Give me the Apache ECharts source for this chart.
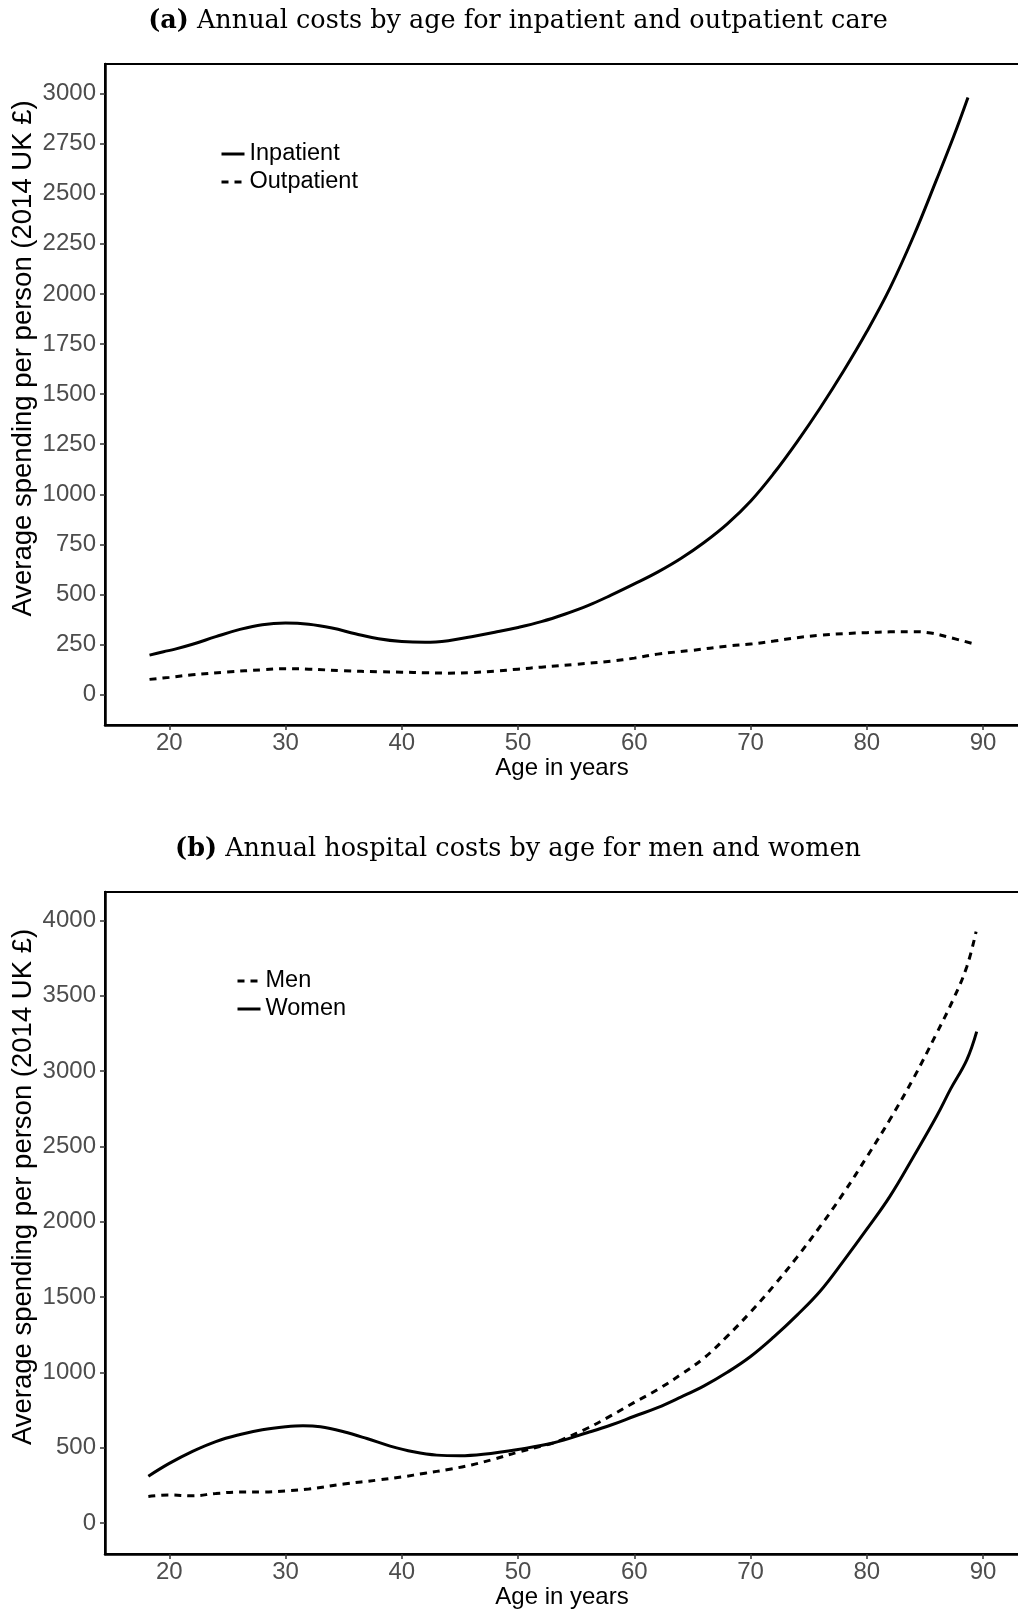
<!DOCTYPE html>
<html>
<head>
<meta charset="utf-8">
<script src="https://cdn.jsdelivr.net/npm/echarts@6/dist/echarts.min.js"></script>
<style>
  html, body { margin: 0; padding: 0; background: #fff; }
  #chart { width: 1018px; height: 1609px; }
</style>
</head>
<body>
<div id="chart"></div>
<script>
// Panel (a): inpatient vs outpatient costs by age (2014 UK £)
const inpatientAge = [18.3, 19.5, 20.5, 22, 24, 26, 28, 30, 32, 34, 36, 38, 40, 42, 44, 46, 48, 50, 52, 54, 56, 58, 60, 62, 64, 66, 68, 70, 72, 74, 76, 78, 80, 82, 84, 86, 87.5, 88.7];
const inpatientCost = [198, 215, 228, 252, 290, 325, 350, 358, 352, 333, 305, 280, 266, 262, 270, 290, 312, 336, 365, 402, 445, 497, 553, 612, 680, 760, 853, 966, 1105, 1262, 1432, 1615, 1812, 2030, 2285, 2570, 2790, 2980];

const outpatientAge = [18.3, 20, 22, 25, 28, 30, 32, 35, 38, 40, 42, 44, 46, 48, 50, 52, 55, 58, 60, 62, 65, 68, 70, 72, 74, 76, 78, 80, 82, 84, 85.5, 87, 89.1];
const outpatientCost = [77, 87, 100, 114, 125, 130, 128, 120, 115, 113, 110, 108, 111, 118, 128, 138, 152, 168, 183, 203, 222, 243, 253, 268, 285, 297, 305, 310, 314, 315, 308, 288, 256];

// Panel (b): hospital costs by age for men and women
const menAge = [18.2, 20, 22, 24, 26, 28, 30, 32, 35, 38, 40, 42, 44, 46, 48, 50, 52, 53, 54, 56, 58, 60, 62, 64, 66, 68, 70, 72, 74, 76, 78, 80, 82, 84, 86, 87.4, 88.6, 89.4];
const menCost = [175, 185, 180, 195, 205, 205, 212, 225, 258, 285, 305, 330, 355, 385, 425, 470, 510, 530, 560, 630, 712, 800, 885, 985, 1095, 1240, 1400, 1575, 1765, 1970, 2190, 2430, 2680, 2950, 3250, 3470, 3693, 3926];

const womenAge = [18.2, 20, 22, 24, 26, 28, 30, 31.5, 33, 35, 37, 39, 41, 43, 45, 47, 50, 53, 56, 58, 60, 62, 64, 66, 68, 70, 72, 74, 76, 78, 80, 82, 84, 86, 87.2, 88.6, 89.45];
const womenCost = [310, 395, 475, 540, 585, 618, 638, 645, 638, 605, 560, 510, 472, 450, 446, 456, 488, 530, 600, 650, 708, 765, 835, 910, 1000, 1105, 1235, 1380, 1540, 1740, 1950, 2170, 2430, 2700, 2880, 3075, 3262];

// Tick labels
const ageTicks = [20, 30, 40, 50, 60, 70, 80, 90];
const costTicksA = [0, 250, 500, 750, 1000, 1250, 1500, 1750, 2000, 2250, 2500, 2750, 3000];
const costTicksB = [0, 500, 1000, 1500, 2000, 2500, 3000, 3500, 4000];

const titleA = 'Annual costs by age for inpatient and outpatient care';
const titleB = 'Annual hospital costs by age for men and women';
const yName = 'Average spending per person (2014 UK £)';
const xName = 'Age in years';

const SANS = '"Liberation Sans", Arial, Helvetica, sans-serif';
const SERIF = '"DejaVu Serif", "Liberation Serif", serif';
const DASH = [7, 6];

const pairs = (xs, ys) => xs.map((x, i) => [x, ys[i]]);
const plain = v => String(v);

function xAxis(gridIndex) {
  return {
    type: 'value', gridIndex,
    min: 14.47, max: 93.09,
    name: xName, nameLocation: 'middle', nameGap: 31, nameMoveOverlap: false,
    nameTextStyle: { fontFamily: SANS, fontSize: 24, color: '#000' },
    axisLine: { show: true, onZero: false, lineStyle: { color: '#000', width: 2.5 } },
    axisTick: { show: true, customValues: ageTicks, length: 5, lineStyle: { color: '#333', width: 1.5 } },
    axisLabel: { customValues: ageTicks, formatter: plain, margin: 6, fontFamily: SANS, fontSize: 24, color: '#4d4d4d' },
    splitLine: { show: false }
  };
}

function yAxis(gridIndex, min, max, ticks) {
  return {
    type: 'value', gridIndex, min, max,
    name: yName, nameLocation: 'middle', nameGap: 68, nameRotate: 90, nameMoveOverlap: false,
    // left padding lifts the rotated title above the panel centre
    nameTextStyle: { fontFamily: SANS, fontSize: 27.5, color: '#000', padding: [0, 0, 0, 72] },
    axisLine: { show: true, onZero: false, lineStyle: { color: '#000', width: 2.5 } },
    axisTick: { show: true, customValues: ticks, length: 5, lineStyle: { color: '#333', width: 1.5 } },
    axisLabel: { customValues: ticks, formatter: plain, margin: 9, fontFamily: SANS, fontSize: 24, color: '#4d4d4d' },
    splitLine: { show: false }
  };
}

function lineSeries(name, xs, ys, idx, dashed) {
  return {
    name, type: 'line', xAxisIndex: idx, yAxisIndex: idx,
    data: pairs(xs, ys),
    symbol: 'none', showSymbol: false,
    smooth: 0.4,
    lineStyle: { color: '#000', width: 3, type: dashed ? DASH : 'solid', cap: 'butt' },
    itemStyle: { color: '#000' },
    emphasis: { disabled: true },
    silent: true
  };
}

function titleOpt(tag, text, top) {
  return {
    text: '{b|(' + tag + ')} ' + text,
    left: 518, top, textAlign: 'center',
    padding: 0,
    textStyle: {
      fontFamily: SERIF, fontSize: 25.5, fontWeight: 'normal', color: '#000',
      rich: { b: { fontFamily: SERIF, fontSize: 25.5, fontWeight: 'bold', color: '#000' } }
    }
  };
}

function legendOpt(names, left, top) {
  return {
    data: names, orient: 'vertical', left, top,
    padding: 0, itemGap: 4, itemWidth: 23, itemHeight: 14,
    selectedMode: false,
    // hide the marker dot, keep only the line sample
    itemStyle: { color: 'rgba(0,0,0,0)', borderColor: 'rgba(0,0,0,0)', borderWidth: 0 },
    lineStyle: { width: 3, color: '#000' },
    textStyle: { fontFamily: SANS, fontSize: 23.5, color: '#000', lineHeight: 24 }
  };
}

const chart = echarts.init(document.getElementById('chart'), null, { renderer: 'canvas' });
chart.setOption({
  animation: false,
  backgroundColor: '#fff',
  title: [titleOpt('a', titleA, 8), titleOpt('b', titleB, 836)],
  legend: [
    legendOpt(['Inpatient', 'Outpatient'], 220, 142),
    legendOpt(['Men', 'Women'], 236, 969)
  ],
  grid: [
    { left: 105, top: 64, right: -1, height: 661, show: true, borderColor: '#000', borderWidth: 2, containLabel: false, outerBoundsMode: 'none' },
    { left: 105, top: 892, right: -1, height: 662, show: true, borderColor: '#000', borderWidth: 2, containLabel: false, outerBoundsMode: 'none' }
  ],
  xAxis: [xAxis(0), xAxis(1)],
  yAxis: [yAxis(0, -150.6, 3146.7, costTicksA), yAxis(1, -206.5, 4189, costTicksB)],
  series: [
    lineSeries('Inpatient', inpatientAge, inpatientCost, 0, false),
    lineSeries('Outpatient', outpatientAge, outpatientCost, 0, true),
    lineSeries('Men', menAge, menCost, 1, true),
    lineSeries('Women', womenAge, womenCost, 1, false)
  ]
});
</script>
</body>
</html>
